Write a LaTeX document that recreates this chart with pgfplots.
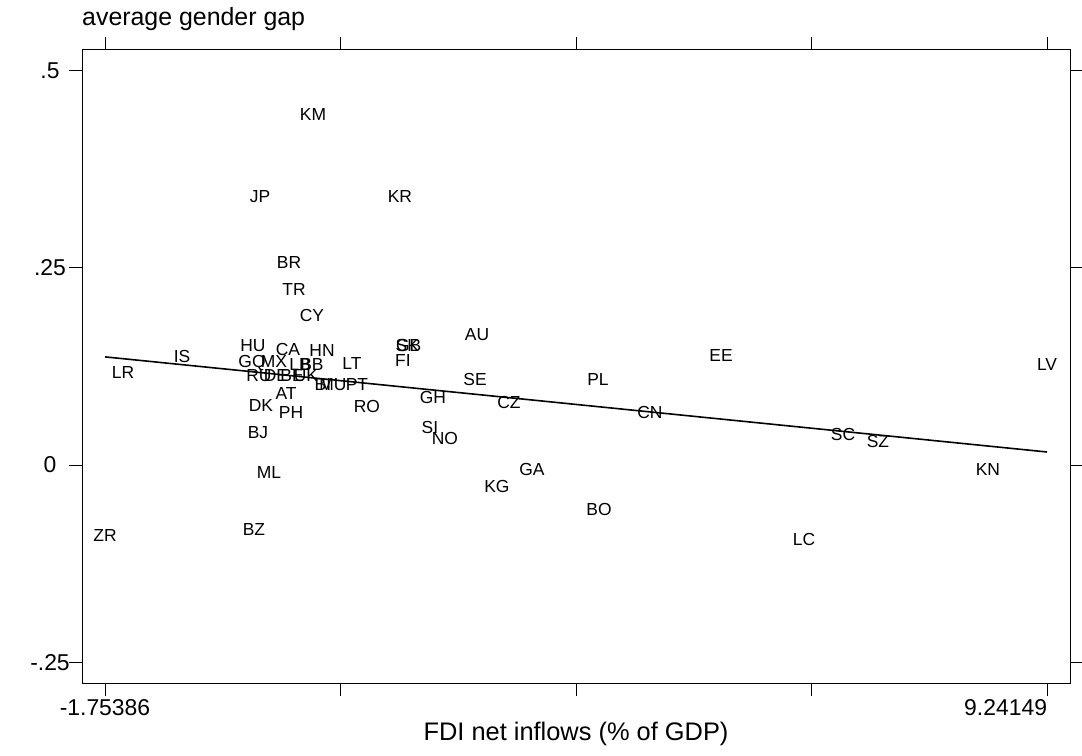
\documentclass[border=0pt]{standalone}
\usepackage{fontspec}
\setmainfont{Liberation Sans}
\usepackage{pgfplots}
\pgfplotsset{compat=1.18}

\pgfplotstableread{
x y label
0.674 0.445 KM
0.055 0.340 JP
1.689 0.340 KR
0.394 0.257 BR
0.452 0.222 TR
0.662 0.189 CY
-0.027 0.152 HU
0.382 0.146 CA
0.779 0.145 HN
-0.855 0.138 IS
-1.544 0.117 LR
-0.038 0.129 GQ
0.219 0.131 MX
0.522 0.128 LB
0.662 0.128 BB
1.129 0.129 LT
1.775 0.151 SK
1.791 0.151 GB
1.724 0.132 FI
2.588 0.165 AU
5.436 0.139 EE
9.24149 0.128 LV
4.000 0.108 PL
2.565 0.109 SE
0.043 0.114 RU
0.242 0.114 DE
0.429 0.114 BE
0.592 0.114 UK
0.790 0.1015 BI
0.907 0.1015 MU
1.187 0.1015 PT
0.359 0.091 AT
0.067 0.076 DK
0.417 0.067 PH
1.304 0.074 RO
2.074 0.085 GH
2.961 0.079 CZ
4.607 0.066 CN
2.039 0.048 SI
2.214 0.034 NO
0.032 0.041 BJ
6.860 0.039 SC
7.268 0.030 SZ
0.160 -0.010 ML
3.230 -0.006 GA
2.821 -0.027 KG
8.552 -0.006 KN
4.012 -0.057 BO
-0.015 -0.082 BZ
6.405 -0.094 LC
-1.75386 -0.089 ZR
}\countries

\begin{document}
\begin{tikzpicture}
\useasboundingbox (-82bp,-73bp) rectangle (1000bp,683bp);
\begin{axis}[
  scale only axis,
  width=988bp, height=633bp,
  xmin=-2.0223, xmax=9.5096,
  ymin=-0.2764, ymax=0.5262,
  axis line style={line width=1pt},
  tick align=outside,
  xtick pos=both, ytick pos=both,
  major tick length=13bp,
  tick style={line width=0.9pt, black},
  xtick={-1.75386,0.995,3.744,6.493,9.24149},
  xticklabels={-1.75386,,,,\llap{9.24149}},
  ytick={-0.25,0,0.25,0.5},
  yticklabels={-.25,0,.25,.5},
  yticklabel style={anchor=center, xshift=-19bp},
  /pgf/number format/assume math mode=true,
  tick label style={font=\fontsize{23}{23}\selectfont},
  clip=false,
]
\addplot[only marks, mark=none, nodes near coords={\pgfplotspointmeta},
  point meta=explicit symbolic,
  nodes near coords style={anchor=center, inner sep=0pt, font=\fontsize{17.5}{17.5}\selectfont}]
  table[x=x, y=y, meta=label] {\countries};
\addplot[black, line width=1.6pt] coordinates {(-1.75386,0.1371) (9.24149,0.0165)};
\node[anchor=base west, inner sep=0pt, font=\fontsize{25}{25}\selectfont]
  at ([yshift=24bp]rel axis cs:0,1) {average gender gap};
\node[anchor=base, inner sep=0pt, font=\fontsize{25.5}{25.5}\selectfont]
  at ([yshift=-57bp]rel axis cs:0.5,0) {FDI net inflows (\% of GDP)};
\end{axis}
\end{tikzpicture}
\end{document}
